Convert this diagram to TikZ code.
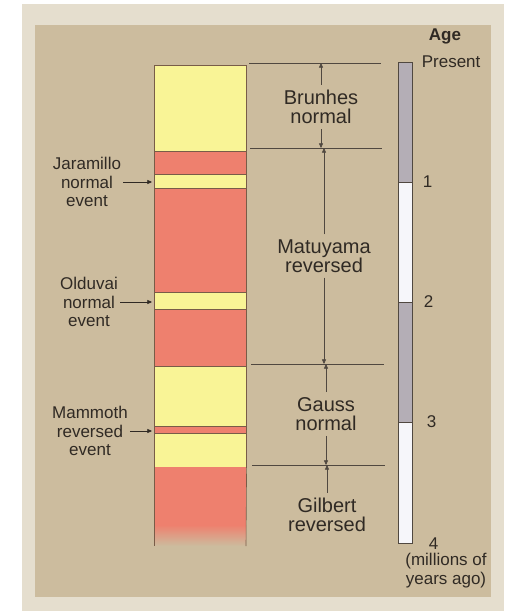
\documentclass[tikz,border=0pt]{standalone}
\usepackage{fontspec}
\setmainfont{Liberation Sans}
\usetikzlibrary{arrows.meta,positioning}
\definecolor{panelTan}{RGB}{204,188,158}
\definecolor{frameTan}{RGB}{229,222,206}
\definecolor{normY}{RGB}{249,244,150}
\definecolor{revR}{RGB}{238,128,110}
\definecolor{barG}{RGB}{180,174,182}
\definecolor{barW}{RGB}{246,246,250}
\definecolor{inkD}{RGB}{48,42,36}
\definecolor{edgeB}{RGB}{120,92,72}
\definecolor{lineD}{RGB}{80,72,64}

\begin{document}
\begin{tikzpicture}[x=1pt, y=-1pt,
  >={Triangle[length=4.6pt,width=4pt]},
  magband/.style={rectangle, draw=edgeB, line width=0.6pt, anchor=north west,
                  inner sep=0pt, minimum width=92pt},
  normband/.style={magband, fill=normY},
  revband/.style={magband, fill=revR},
  era/.style={font=\fontsize{20}{19}\selectfont, text=inkD, align=center, inner sep=5pt},
  event/.style={font=\fontsize{17}{18.5}\selectfont, text=inkD, align=center, inner sep=2pt},
  agelab/.style={font=\fontsize{17}{19}\selectfont, text=inkD, inner sep=0pt},
  ageseg/.style={rectangle, draw=lineD, line width=0.6pt, anchor=north west,
                 inner sep=0pt, minimum width=14pt},
  bound/.style={draw=lineD, line width=0.6pt},
  dim/.style={->, draw=lineD, line width=0.5pt},
  tag/.style={->, draw=inkD, line width=0.6pt, shorten >=2pt}]

  \useasboundingbox (0,0) rectangle (504,613);
  % paper and panel
  \fill[white] (0,0) rectangle (504,613);
  \fill[frameTan] (22,4) rectangle (504,611);
  \fill[panelTan] (35,25) rectangle (491,597);

  % the magnetic column, top = present
  \node[normband, minimum height=86pt]  (brunN)  at (154,65)  {};
  \node[revband,  minimum height=23pt]  (matR1)  at (154,151) {};
  \node[normband, minimum height=14pt]  (jaraN)  at (154,174) {};
  \node[revband,  minimum height=104pt] (matR2)  at (154,188) {};
  \node[normband, minimum height=17pt]  (oldN)   at (154,292) {};
  \node[revband,  minimum height=57pt]  (matR3)  at (154,309) {};
  \node[normband, minimum height=60pt]  (gauN1)  at (154,366) {};
  \node[revband,  minimum height=7pt]   (mamR)   at (154,426) {};
  \node[normband, minimum height=34pt]  (gauN2)  at (154,433) {};
  \node[revband, draw=none, minimum height=59pt] (gilR) at (154,467) {};
  \shade[top color=revR, bottom color=panelTan] (154,525) rectangle (246,546);
  \draw[draw=edgeB, line width=0.6pt] (gilR.north west) -- (154,546);
  \draw[draw=edgeB, line width=0.6pt] (gilR.north east) -- (246,546);

  % event labels
  \node[event] (jaraLab) at (87,182)  {Jaramillo\\normal\\event};
  \node[event] (oldLab)  at (89,302)  {Olduvai\\normal\\event};
  \node[event] (mamLab)  at (90,431)  {Mammoth\\reversed\\event};
  \draw[tag] (jaraLab.east) -- (jaraLab.east -| jaraN.west);
  \draw[tag] (oldLab.east)  -- (oldLab.east -| oldN.west);
  \draw[tag] (mamLab.east)  -- (mamLab.east -| mamR.west);

  % epoch boundaries
  \coordinate (lim0) at (249,63);
  \coordinate (lim1) at (250,148);
  \coordinate (lim2) at (251,364);
  \coordinate (lim3) at (252,465);
  \draw[bound] (lim0) -- ++(132,0);
  \draw[bound] (lim1) -- ++(132,0);
  \draw[bound] (lim2) -- ++(133,0);
  \draw[bound] (lim3) -- ++(133,0);

  % epochs
  \node[era] (brun) at (321,107) {Brunhes\\normal};
  \node[era] (matu) at (324,256) {Matuyama\\reversed};
  \node[era] (gaus) at (326,414) {Gauss\\normal};
  \node[era] (gilb) at (327,515) {Gilbert\\reversed};
  \draw[dim] (brun.north) -- (brun.north |- lim0);
  \draw[dim] (brun.south) -- (brun.south |- lim1);
  \draw[dim] (matu.north) -- (matu.north |- lim1);
  \draw[dim] (matu.south) -- (matu.south |- lim2);
  \draw[dim] (gaus.north) -- (gaus.north |- lim2);
  \draw[dim] (gaus.south) -- (gaus.south |- lim3);
  \draw[dim] (gilb.north) -- (gilb.north |- lim3);

  % age scale
  \node[ageseg, fill=barG, minimum height=120pt] (age0) at (398,62)  {};
  \node[ageseg, fill=barW, minimum height=120pt] (age1) at (398,182) {};
  \node[ageseg, fill=barG, minimum height=120pt] (age2) at (398,302) {};
  \node[ageseg, fill=barW, minimum height=121pt] (age3) at (398,422) {};

  \node[agelab, font=\fontsize{17}{19}\bfseries] (ageHd) at (445,36) {Age};
  \node[agelab, right=9pt of age0.north east]  (ageP) {Present};
  \node[agelab, right=10pt of age1.north east] (age1L) {1};
  \node[agelab, right=11pt of age2.north east] (age2L) {2};
  \node[agelab, right=14pt of age3.north east] (age3L) {3};
  \node[agelab, right=16pt of age3.south east] (age4L) {4};
  \node[agelab, align=center] (ageUnit) at (446,571) {(millions of\\years ago)};
\end{tikzpicture}
\end{document}
